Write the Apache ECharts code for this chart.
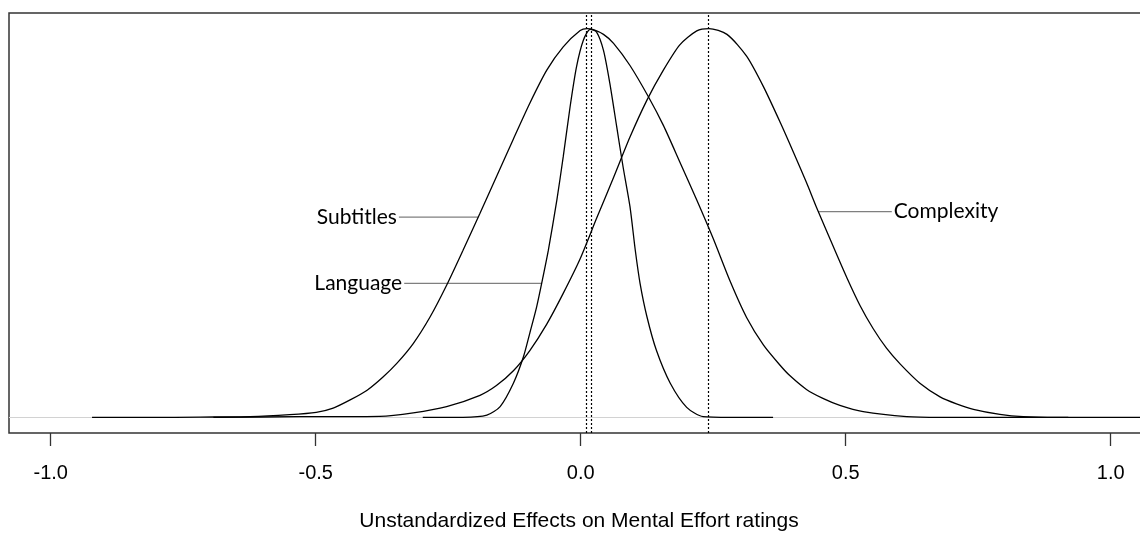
<!DOCTYPE html>
<html>
<head>
<meta charset="utf-8">
<script src="https://cdn.jsdelivr.net/npm/echarts@6/dist/echarts.min.js"></script>
<style>
html,body{margin:0;padding:0;background:#fff;}
#chart{width:1140px;height:533px;}
</style>
</head>
<body>
<div id="chart"></div>
<script>
// Normalised density curves: [effect, relative density]
var subtitles = [
  [-0.922,0],[-0.813,0],[-0.718,0.001],[-0.624,0.002],[-0.549,0.007],[-0.499,0.013],
  [-0.467,0.024],[-0.435,0.045],[-0.403,0.070],[-0.373,0.104],[-0.347,0.139],[-0.316,0.190],
  [-0.284,0.259],[-0.253,0.340],[-0.222,0.430],[-0.190,0.525],[-0.159,0.619],[-0.128,0.713],
  [-0.096,0.808],[-0.064,0.893],[-0.033,0.953],[-0.001,0.995],[0.012,1.0],[0.024,0.997],
  [0.043,0.985],[0.062,0.962],[0.093,0.905],[0.128,0.824],[0.156,0.751],[0.187,0.657],[0.219,0.559],
  [0.250,0.460],[0.282,0.350],[0.313,0.257],[0.345,0.186],[0.377,0.133],[0.395,0.107],
  [0.426,0.072],[0.457,0.049],[0.489,0.031],[0.533,0.015],[0.615,0.002],[0.678,0],
  [0.790,0],[0.920,0]
];
var language = [
  [-0.298,0],[-0.222,0.0003],[-0.177,0.006],[-0.152,0.028],[-0.127,0.088],[-0.108,0.156],
  [-0.096,0.217],[-0.083,0.285],[-0.071,0.362],[-0.061,0.430],[-0.045,0.559],[-0.033,0.670],
  [-0.020,0.799],[-0.008,0.901],[0.005,0.970],[0.018,0.998],[0.030,0.991],[0.043,0.944],
  [0.055,0.859],[0.068,0.747],[0.080,0.644],[0.093,0.542],[0.103,0.430],[0.112,0.345],
  [0.125,0.259],[0.143,0.172],[0.169,0.088],[0.200,0.026],[0.231,0.002],[0.282,0],[0.363,0]
];
var complexity = [
  [-0.693,0],[-0.530,0.002],[-0.379,0.003],[-0.316,0.012],[-0.253,0.028],[-0.190,0.057],
  [-0.159,0.082],[-0.127,0.120],[-0.096,0.172],[-0.064,0.240],[-0.033,0.319],[-0.001,0.408],
  [0.030,0.512],[0.062,0.617],[0.093,0.721],[0.125,0.816],[0.156,0.893],[0.187,0.958],
  [0.219,0.994],[0.242,1.0],[0.276,0.985],[0.313,0.929],[0.345,0.850],[0.377,0.757],
  [0.402,0.680],[0.426,0.604],[0.445,0.540],[0.477,0.438],[0.502,0.360],[0.527,0.288],
  [0.552,0.228],[0.577,0.178],[0.603,0.137],[0.640,0.088],[0.678,0.053],[0.709,0.035],
  [0.741,0.021],[0.791,0.008],[0.835,0.002],[0.898,0],[1.072,0]
];
// Vertical dotted reference lines (curve centres)
var meanLines = [0.015, 0.019, 0.2415];
// Axis tick values
var tickValues = [-1.0, -0.5, 0.0, 0.5, 1.0];
// Callout labels: name, line start x, line end x, y
var labelNames = ['Subtitles', 'Language', 'Complexity'];
var labelLines = [[-0.343, -0.193, 0.515], [-0.333, -0.073, 0.345], [0.448, 0.587, 0.529]];
var labelSides = ['left', 'left', 'right'];

var curveStyle = {color: '#000', width: 1.3};
function curve(name, data) {
  return {
    name: name, type: 'line', data: data, symbol: 'none', smooth: 0.25,
    lineStyle: curveStyle, z: 5, silent: true
  };
}
var series = [
  curve('Subtitles', subtitles),
  curve('Language', language),
  curve('Complexity', complexity)
];
series[0].markLine = {
  silent: true, symbol: 'none', label: {show: false},
  data: [{yAxis: 0, lineStyle: {color: '#d2d2d2', width: 1, type: 'solid'}}].concat(
    meanLines.map(function (v) {
      return {xAxis: v, lineStyle: {color: '#000', width: 1.2, type: [2, 2]}};
    })
  )
};
labelNames.forEach(function (nm, i) {
  var l = labelLines[i];
  var side = labelSides[i];
  var p1 = [l[0], l[2]], p2 = [l[1], l[2]];
  var labelled = {value: side === 'left' ? p1 : p2,
    label: {show: true, position: side, distance: 2, formatter: nm,
      color: '#000', fontFamily: 'Lato', fontSize: 21}};
  series.push({
    name: nm + ' label', type: 'line', symbol: 'circle', symbolSize: 0, showSymbol: true,
    silent: true, z: 4,
    lineStyle: {color: '#7f7f7f', width: 1.3},
    label: {show: false},
    data: side === 'left' ? [labelled, p2] : [p1, labelled]
  });
});

var chart = echarts.init(document.getElementById('chart'), null, {renderer: 'canvas'});
chart.setOption({
  animation: false,
  backgroundColor: '#fff',
  grid: {left: 9, top: 13, width: 1140, height: 420, show: true,
    borderColor: '#333', borderWidth: 1.5, backgroundColor: 'transparent',
    outerBoundsMode: 'none'},
  xAxis: {
    type: 'value', min: -1.0787, max: 1.0723,
    splitLine: {show: false},
    axisLine: {show: false, onZero: false},
    axisTick: {show: true, customValues: tickValues, length: 13, inside: false,
      lineStyle: {color: '#333', width: 1.3}},
    axisLabel: {show: true, customValues: tickValues, margin: 30,
      fontFamily: 'Liberation Sans', fontSize: 20, color: '#000',
      formatter: function (v) { return v.toFixed(1); }},
    name: 'Unstandardized Effects on Mental Effort ratings',
    nameLocation: 'middle', nameGap: 78,
    nameTextStyle: {fontFamily: 'Liberation Sans', fontSize: 21, color: '#000'}
  },
  yAxis: {
    type: 'value', min: -0.04, max: 1.04,
    axisLine: {show: false}, axisTick: {show: false}, axisLabel: {show: false},
    splitLine: {show: false}
  },
  series: series
});
</script>
</body>
</html>
